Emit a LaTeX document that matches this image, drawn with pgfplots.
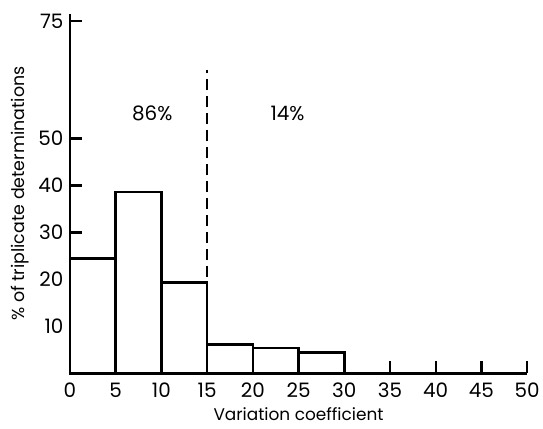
\documentclass[border=0pt]{standalone}
\usepackage{fontspec}
\setmainfont{Poppins}
\usepackage{pgfplots}
\pgfplotsset{compat=1.18}

\begin{document}
\begin{tikzpicture}
\begin{axis}[
    scale only axis,
    width=458bp, height=360bp,
    xmin=0, xmax=50, ymin=0, ymax=76.5,
    axis x line=bottom, axis y line=left,
    axis line style={-, line width=2.6bp},
    xtick={0,5,...,50},
    ytick={10,20,30,40,50,75},
    tick align=inside,
    major tick length=12bp,
    tick style={line width=2.2bp, black},
    /pgf/number format/assume math mode=true,
    ticklabel style={font=\fontsize{20}{24}\selectfont},
    xticklabel style={yshift=-6bp},
    yticklabel style={xshift=-3bp},
    xlabel={Variation coefficient},
    ylabel={\% of triplicate determinations},
    xlabel style={font=\fontsize{17}{20}\selectfont, yshift=-3bp},
    ylabel style={font=\fontsize{17.5}{21}\selectfont, yshift=3bp},
    clip=false,
]
\addplot[ybar interval, fill=white, draw=black, line width=2.6bp] coordinates {
    (0,24.5) (5,38.6) (10,19.4) (15,6.1) (20,5.4) (25,4.5) (30,4.5)
};
\addplot[black, line width=2.6bp, dash pattern=on 11bp off 6bp] coordinates {
    (15,20.5) (15,64.5)
};
\node[font=\fontsize{20}{24}\selectfont] at (axis cs:9,55.4) {86\%};
\node[font=\fontsize{20}{24}\selectfont] at (axis cs:23.8,55.4) {14\%};
\end{axis}
\path[use as bounding box] (-70bp,-55bp) rectangle (473bp,374bp);
\end{tikzpicture}
\end{document}
